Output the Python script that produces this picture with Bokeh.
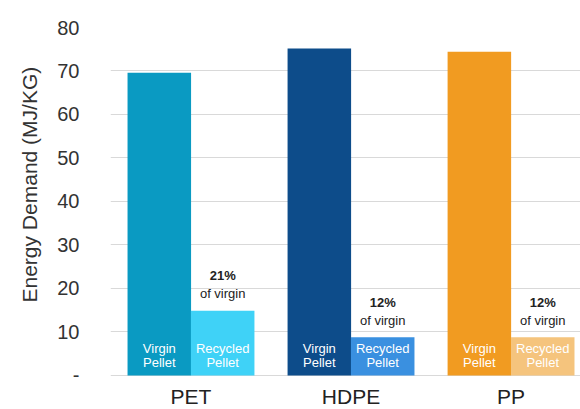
from bokeh.plotting import figure
from bokeh.models import ColumnDataSource, Range1d, FixedTicker, Title
from bokeh.core.properties import value
from bokeh.embed import file_html
from bokeh.resources import INLINE

# ---- data ----
materials = ["PET", "HDPE", "PP"]
virgin = [69.6, 75.2, 74.4]
recycled = [14.9, 8.8, 8.8]
pct_labels = ["21%", "12%", "12%"]
virgin_colors = ["#0A9AC2", "#0D4C8A", "#F19B21"]
recycled_colors = ["#3FD2F7", "#3A90E0", "#F5C47D"]
y_ticks = [0, 10, 20, 30, 40, 50, 60, 70, 80]
y_tick_labels = ["-", "10", "20", "30", "40", "50", "60", "70", "80"]

FONT = "Liberation Sans"
off = 0.198
bw = 0.397

idx = list(range(len(materials)))
n = len(materials)
vsrc = ColumnDataSource(dict(x=[i - off for i in idx], top=virgin, color=virgin_colors,
                             zero=[0] * n, w1=["Virgin"] * n, w2=["Pellet"] * n))
rsrc = ColumnDataSource(dict(x=[i + off for i in idx], top=recycled, color=recycled_colors,
                             pct=pct_labels, sub=["of virgin"] * n,
                             zero=[0] * n, w1=["Recycled"] * n, w2=["Pellet"] * n))
csrc = ColumnDataSource(dict(x=idx, zero=[0] * n, name=materials))

p = figure(width=580, height=409, output_backend="svg", toolbar_location=None,
           x_range=Range1d(-0.503, 2.434), y_range=Range1d(-7.82, 80),
           min_border_left=110, min_border_right=0, min_border_top=27, min_border_bottom=0)
p.outline_line_color = None
p.background_fill_color = "white"

p.vbar(x="x", top="top", width=bw, bottom=0, color="color", source=vsrc, line_width=0)
p.vbar(x="x", top="top", width=bw, bottom=0, color="color", source=rsrc, line_width=0)

# in-bar labels
for src in (vsrc, rsrc):
    p.text(x="x", y="zero", text="w1", source=src, y_offset=-27,
           text_align="center", text_baseline="middle", text_color="white",
           text_font=value(FONT), text_font_size="13px")
    p.text(x="x", y="zero", text="w2", source=src, y_offset=-13,
           text_align="center", text_baseline="middle", text_color="white",
           text_font=value(FONT), text_font_size="13px")

# annotations over recycled bars
p.text(x="x", y="top", text="pct", source=rsrc, y_offset=-35,
       text_align="center", text_baseline="middle", text_color="#222222",
       text_font=value(FONT), text_font_size="13px", text_font_style="bold")
p.text(x="x", y="top", text="sub", source=rsrc, y_offset=-17,
       text_align="center", text_baseline="middle", text_color="#222222",
       text_font=value(FONT), text_font_size="13px")

# category labels
p.text(x="x", y="zero", text="name", source=csrc, y_offset=21,
       text_align="center", text_baseline="middle", text_color="#222222",
       text_font=value(FONT), text_font_size="21px")

# axes
p.xaxis.visible = False
p.xgrid.visible = False
p.ygrid.grid_line_color = "#d9d9d9"
p.ygrid.grid_line_width = 1
p.ygrid.ticker = FixedTicker(ticks=y_ticks)
p.yaxis.ticker = FixedTicker(ticks=y_ticks)
p.yaxis.major_label_overrides = {t: l for t, l in zip(y_ticks, y_tick_labels)}
p.yaxis.axis_line_color = None
p.yaxis.major_tick_line_color = None
p.yaxis.minor_tick_line_color = None
p.yaxis.major_label_standoff = 25
p.yaxis.major_label_text_font = FONT
p.yaxis.major_label_text_font_size = "20px"
p.yaxis.major_label_text_color = "#333333"

ytitle = Title(text="Energy Demand (MJ/KG)", align="left", offset=107,
               text_font=FONT, text_font_size="21px", text_font_style="normal",
               text_color="#333333", standoff=27)
p.add_layout(ytitle, "left")

open("out.html", "w").write(file_html(p, INLINE))
